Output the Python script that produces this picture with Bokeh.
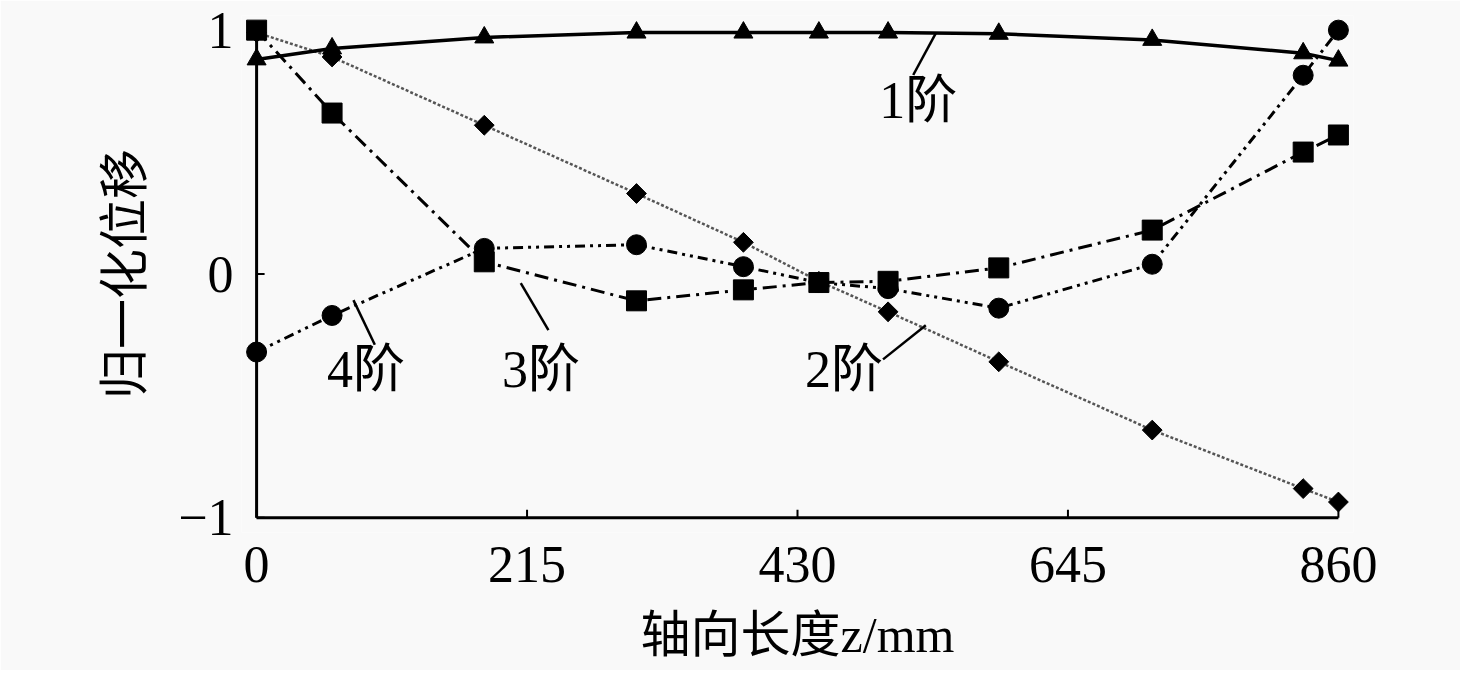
import math
from bokeh.plotting import figure
from bokeh.models import Range1d, FixedTicker
from bokeh.core.properties import value
from bokeh.embed import file_html
from bokeh.resources import INLINE

# ---- data ----
z_mm = [0, 60, 181, 302, 387, 447, 502, 590, 712, 832, 860]
mode1 = [0.88, 0.925, 0.97, 0.99, 0.99, 0.99, 0.99, 0.985, 0.96, 0.905, 0.875]
mode2 = [0.99, 0.89, 0.61, 0.33, 0.13, -0.03, -0.155, -0.36, -0.64, -0.88, -0.935]
mode3 = [1.0, 0.66, 0.05, -0.11, -0.065, -0.035, -0.03, 0.025, 0.18, 0.50, 0.57]
mode4 = [-0.32, -0.17, 0.105, 0.12, 0.03, -0.035, -0.06, -0.14, 0.04, 0.815, 1.0]

x_ticks = [0, 215, 430, 645, 860]
y_ticks = [-1, 0, 1]
y_tick_labels = {-1: "\u22121", 0: "0", 1: "1"}

label_texts = ["1阶", "2阶", "3阶", "4阶"]

FONT = "Liberation Serif, Noto Sans CJK SC"
BG = "#f9f9f9"

X0, X1 = -12, 872
Y0, Y1 = -1.06, 1.06

p = figure(width=1460, height=670, output_backend="svg", toolbar_location=None,
           x_range=Range1d(X0, X1), y_range=Range1d(Y0, Y1),
           min_border_left=241, min_border_right=107, min_border_top=15,
           min_border_bottom=138, background_fill_color=BG, border_fill_color=BG,
           outline_line_color=None)
p.grid.visible = False

# axes (labels only; spines and ticks drawn at the data origin below)
p.xaxis.ticker = FixedTicker(ticks=x_ticks)
p.yaxis.ticker = FixedTicker(ticks=y_ticks)
p.yaxis.major_label_overrides = y_tick_labels
for ax in (p.xaxis[0], p.yaxis[0]):
    ax.axis_line_color = None
    ax.major_tick_line_color = None
    ax.minor_tick_line_color = None
    ax.major_label_text_font = FONT
    ax.major_label_text_font_size = "52px"
    ax.major_label_text_color = "black"
    ax.axis_label_text_font = FONT
    ax.axis_label_text_font_size = "50px"
    ax.axis_label_text_font_style = "normal"
    ax.axis_label_text_color = "black"
p.xaxis.axis_label = "轴向长度z/mm"
p.yaxis.axis_label = "归一化位移"
p.xaxis.major_label_standoff = 8
p.xaxis.axis_label_standoff = 22
p.yaxis.major_label_standoff = 2
p.yaxis.axis_label_standoff = 22

# spines at x=0 and y=-1
p.segment(x0=[x_ticks[0], x_ticks[0]], y0=[y_ticks[0], y_ticks[0]],
          x1=[x_ticks[-1], x_ticks[0]], y1=[y_ticks[0], y_ticks[-1]],
          line_color="black", line_width=3)
# inward tick marks
tick_len_y = 8 / 244.0
tick_len_x = 8 / 1.2581
p.segment(x0=x_ticks, y0=[y_ticks[0]] * len(x_ticks),
          x1=x_ticks, y1=[y_ticks[0] + tick_len_y] * len(x_ticks),
          line_color="black", line_width=2)
p.segment(x0=[x_ticks[0]] * len(y_ticks), y0=y_ticks,
          x1=[x_ticks[0] + tick_len_x] * len(y_ticks), y1=y_ticks,
          line_color="black", line_width=2)

# lines
p.line(z_mm, mode2, line_color="#555555", line_width=2.5, line_dash="3 2")
p.line(z_mm, mode3, line_color="black", line_width=3, line_dash="14 6 3 6")
p.line(z_mm, mode4, line_color="black", line_width=3, line_dash="10 5 3 5 3 5")
p.line(z_mm, mode1, line_color="black", line_width=3.5)

# markers
p.scatter(z_mm, mode2, marker="square", angle=math.pi / 4, size=14, color="black")
p.scatter(z_mm, mode3, marker="square", size=20, color="black")
p.scatter(z_mm, mode4, marker="circle", size=20, color="black")
p.scatter(z_mm, mode1, marker="triangle", size=19, color="black")

# leader lines (annotation positions)
p.segment(x0=[540, 532, 210, 77], y0=[0.988, -0.21, -0.037, -0.107],
          x1=[522, 498, 232, 94], y1=[0.816, -0.35, -0.23, -0.29],
          line_color="black", line_width=2.5)

p.text(x=[526, 467, 226, 87], y=[0.71, -0.39, -0.39, -0.39], text=label_texts,
       text_font=value(FONT), text_font_size="52px", text_align="center",
       text_baseline="middle", text_color="black")

open("out.html", "w").write(file_html(p, INLINE))
